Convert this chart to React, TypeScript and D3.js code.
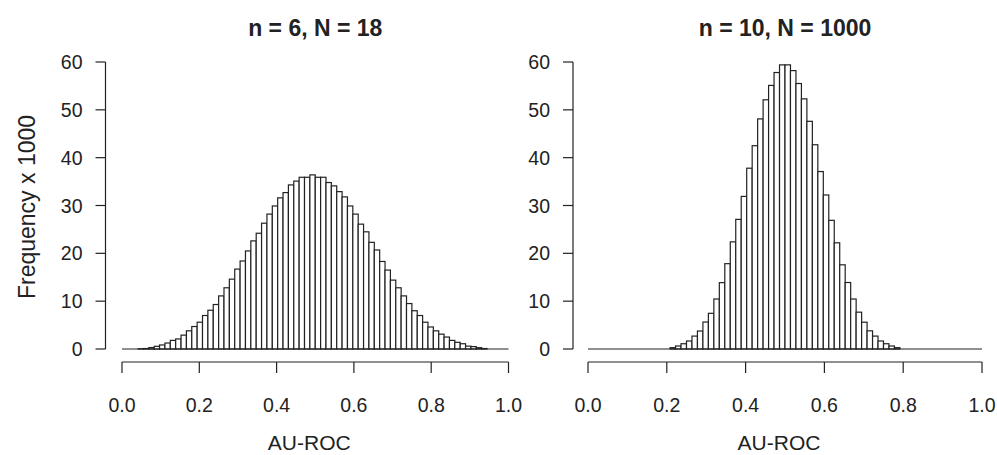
import * as d3 from "d3";

const WIDTH = 997;
const HEIGHT = 455;

// histogram frequencies (x 1000), 72 equal bins over [0, 1]
const leftFreq = [
  0, 0, 0, 0.05, 0.1, 0.3, 0.56, 0.84, 1.25, 1.8,
  2.1, 2.9, 3.8, 4.7, 5.6, 7.0, 8.1, 9.3, 11.1, 12.8,
  14.6, 16.7, 18.4, 20.5, 22.6, 24.2, 26.3, 28.2, 29.9, 31.6,
  32.7, 34.3, 35.1, 35.9, 35.9, 36.4, 35.9, 35.9, 34.8, 34.1,
  32.9, 31.8, 29.9, 28.2, 26.1, 24.5, 22.3, 20.7, 18.3, 16.5,
  14.4, 12.8, 11.1, 9.5, 8.0, 7.0, 5.6, 4.6, 3.8, 3.1,
  2.5, 1.8, 1.4, 1.1, 0.6, 0.5, 0.28, 0.1, 0, 0,
  0, 0,
];

const rightFreq = [
  0, 0, 0, 0, 0, 0, 0, 0, 0, 0,
  0, 0, 0, 0, 0, 0.28, 0.63, 1.1, 1.67, 2.7,
  3.76, 5.64, 7.46, 10.45, 13.87, 17.84, 22.4, 27.1, 31.9, 37.8,
  42.5, 48.1, 52.1, 55.1, 57.8, 59.4, 59.4, 58.2, 55.5, 52.3,
  47.6, 42.7, 37.1, 32.2, 26.9, 22.2, 17.6, 13.9, 10.45, 7.7,
  5.6, 3.8, 2.7, 1.67, 1.1, 0.63, 0.28, 0, 0, 0,
  0, 0, 0, 0, 0, 0, 0, 0, 0, 0,
  0, 0,
];

const xTicks = [0, 0.2, 0.4, 0.6, 0.8, 1.0];
const yTicks = [0, 10, 20, 30, 40, 50, 60];

const FONT = "'Liberation Sans', Arial, sans-serif";
const INK = "#222";

function Panel(props) {
  const { freq, title, x0, x1, axisX } = props;
  const yTop = 62;
  const yBase = 349;
  const xAxisY = 362;

  const xScale = d3.scaleLinear().domain([0, 1]).range([x0, x1]);
  const yScale = d3.scaleLinear().domain([0, 60]).range([yBase, yTop]);
  const nBins = freq.length;
  const center = (x0 + x1) / 2;

  const bars = freq.map((v, i) => {
    const a = xScale(i / nBins);
    const b = xScale((i + 1) / nBins);
    return (
      <rect
        key={i}
        x={a}
        y={yScale(v)}
        width={b - a}
        height={yBase - yScale(v)}
        fill="white"
        stroke={INK}
        strokeWidth={1.2}
      />
    );
  });

  return (
    <g>
      <text
        x={center}
        y={36}
        textAnchor="middle"
        fontFamily={FONT}
        fontWeight="bold"
        fontSize={23}
        fill={INK}
      >
        {title}
      </text>

      {bars}
      {/* empty bins still draw their bottom edge */}
      <line x1={xScale(0)} x2={xScale(1)} y1={yBase} y2={yBase} stroke={INK} strokeWidth={1.2} />

      {/* y axis */}
      <line x1={axisX} x2={axisX} y1={yScale(0)} y2={yScale(60)} stroke={INK} strokeWidth={1.2} />
      {yTicks.map((t) => (
        <g key={t}>
          <line x1={axisX - 10} x2={axisX} y1={yScale(t)} y2={yScale(t)} stroke={INK} strokeWidth={1.2} />
          <text
            x={axisX - 23}
            y={yScale(t)}
            textAnchor="end"
            dominantBaseline="central"
            fontFamily={FONT}
            fontSize={19.5}
            fill={INK}
          >
            {t}
          </text>
        </g>
      ))}

      {/* x axis */}
      <line x1={xScale(0)} x2={xScale(1)} y1={xAxisY} y2={xAxisY} stroke={INK} strokeWidth={1.2} />
      {xTicks.map((t) => (
        <g key={t}>
          <line x1={xScale(t)} x2={xScale(t)} y1={xAxisY} y2={xAxisY + 11} stroke={INK} strokeWidth={1.2} />
          <text
            x={xScale(t)}
            y={412}
            textAnchor="middle"
            fontFamily={FONT}
            fontSize={19.5}
            fill={INK}
          >
            {t.toFixed(1)}
          </text>
        </g>
      ))}

      <text
        x={center - 6}
        y={450}
        textAnchor="middle"
        fontFamily={FONT}
        fontSize={21}
        fill={INK}
      >
        AU-ROC
      </text>
    </g>
  );
}

export default function App() {
  return (
    <svg
      width={WIDTH}
      height={HEIGHT}
      style={{ position: "absolute", left: 0, top: 0, background: "white" }}
    >
      <Panel freq={leftFreq} title="n = 6, N = 18" x0={122} x1={508.5} axisX={105.5} />
      <Panel freq={rightFreq} title="n = 10, N = 1000" x0={588} x1={982} axisX={573} />
      <text
        transform="translate(35,207) rotate(-90)"
        textAnchor="middle"
        fontFamily={FONT}
        fontSize={23}
        fill={INK}
      >
        Frequency x 1000
      </text>
    </svg>
  );
}
